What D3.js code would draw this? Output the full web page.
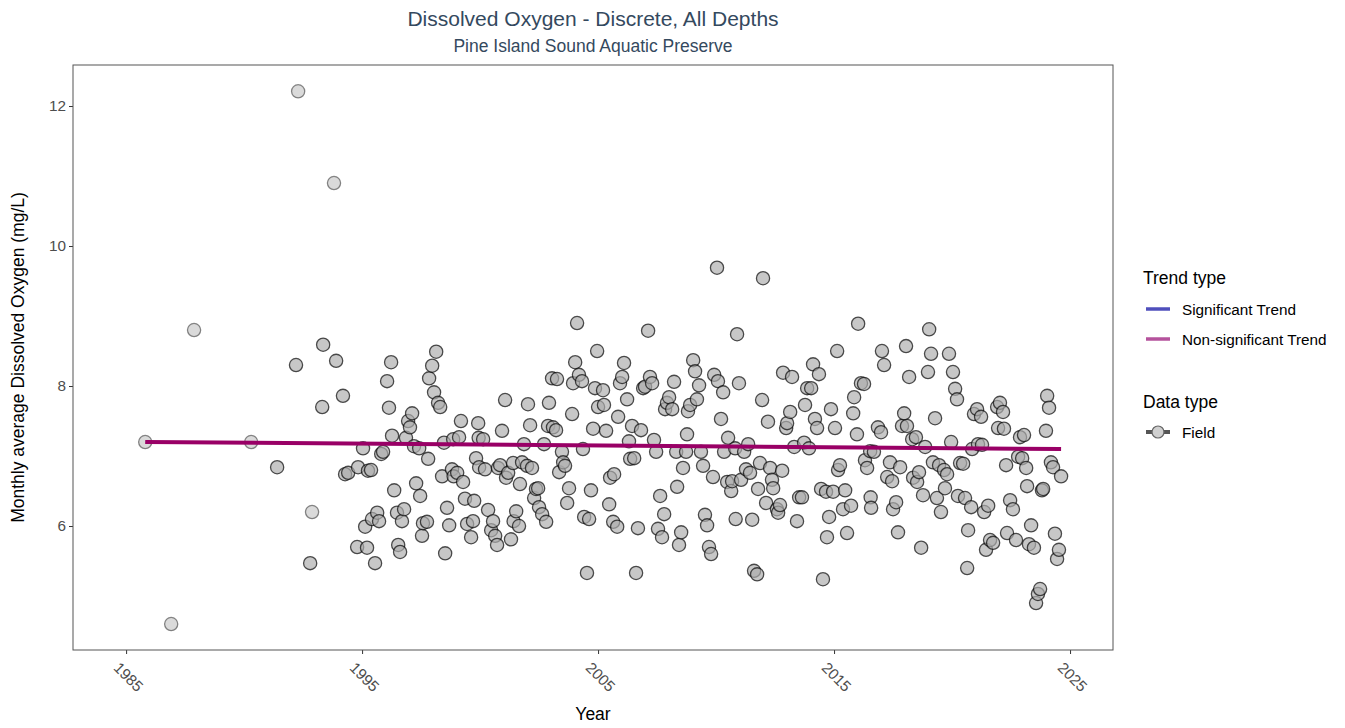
<!DOCTYPE html>
<html>
<head>
<meta charset="utf-8">
<script src="https://cdn.jsdelivr.net/npm/d3@7"></script>
<style>
  html, body { margin: 0; padding: 0; background: #fff; }
  svg { display: block; font-family: "Liberation Sans", Arial, sans-serif; }
</style>
</head>
<body>
<svg id="chart" width="1345" height="728"></svg>
<script>
// Monthly average dissolved oxygen (mg/L), decimal year vs value
const fieldObs = [
  [1991.40,6.84],[1992.20,8.30],[1992.80,5.47],[1993.31,7.70],[1993.35,8.59],[1993.90,8.36],[1994.19,7.86],
  [1994.28,6.74],[1994.41,6.76],[1994.79,5.70],[1994.83,6.84],[1995.04,7.11],[1995.13,5.99],[1995.21,5.69],
  [1995.25,6.79],[1995.38,6.80],[1995.42,6.10],[1995.55,5.47],[1995.64,6.19],[1995.72,6.07],[1995.81,7.03],
  [1995.89,7.06],[1996.06,8.07],[1996.14,7.69],[1996.23,8.34],[1996.27,7.29],[1996.36,6.51],[1996.48,6.19],
  [1996.53,5.73],[1996.61,5.63],[1996.69,6.07],[1996.78,6.24],[1996.86,7.26],[1996.95,7.50],[1997.03,7.41],
  [1997.12,7.61],[1997.20,7.14],[1997.29,6.61],[1997.42,7.11],[1997.46,6.43],[1997.54,5.86],[1997.58,6.04],
  [1997.75,6.06],[1997.80,6.96],[1997.84,8.11],[1997.97,8.29],[1998.05,7.91],[1998.14,8.49],[1998.22,7.76],
  [1998.31,7.70],[1998.39,6.71],[1998.47,7.19],[1998.52,5.61],[1998.60,6.26],[1998.69,6.01],[1998.81,6.81],
  [1998.86,7.24],[1998.88,6.71],[1999.03,6.76],[1999.11,7.27],[1999.19,7.50],[1999.28,6.63],[1999.36,6.39],
  [1999.45,6.03],[1999.62,5.84],[1999.70,6.07],[1999.75,6.36],[1999.83,6.97],[1999.92,7.47],[1999.94,7.26],
  [1999.96,6.84],
  [2000.13,7.24],[2000.21,6.81],[2000.34,6.23],[2000.47,5.94],[2000.55,6.07],[2000.64,5.86],[2000.72,5.73],
  [2000.76,6.83],[2000.85,6.87],[2000.93,7.36],[2001.06,7.80],[2001.10,6.69],[2001.19,6.76],[2001.31,5.81],
  [2001.40,6.90],[2001.42,6.07],[2001.53,6.21],[2001.65,6.00],[2001.69,6.60],[2001.78,6.91],[2001.86,7.17],
  [2001.99,6.86],[2002.03,7.74],[2002.12,7.44],[2002.20,6.83],[2002.29,6.40],[2002.37,6.53],[2002.46,6.54],
  [2002.50,6.27],[2002.63,6.17],[2002.71,7.17],[2002.80,6.06],[2002.88,7.43],[2002.92,7.76],[2003.05,8.11],
  [2003.09,7.41],[2003.22,7.37],[2003.26,8.10],[2003.35,6.77],[2003.47,7.06],[2003.52,6.91],[2003.60,6.86],
  [2003.69,6.33],[2003.77,6.54],[2003.90,7.60],[2003.94,8.04],[2004.03,8.34],[2004.11,8.90],[2004.19,8.16],
  [2004.32,8.07],[2004.36,7.10],[2004.41,6.13],[2004.53,5.33],[2004.62,6.10],[2004.70,6.51],[2004.79,7.39],
  [2004.87,7.97],[2004.96,8.50],[2005.00,7.70],[2005.21,7.94],[2005.25,7.73],[2005.34,7.36],
  [2005.47,6.31],[2005.51,6.69],[2005.64,6.06],[2005.68,6.74],[2005.81,5.99],[2005.85,7.56],[2005.93,8.04],
  [2006.02,8.13],[2006.10,8.33],[2006.23,7.81],[2006.31,7.21],[2006.36,6.96],[2006.44,7.43],[2006.53,6.97],
  [2006.61,5.33],[2006.69,5.97],[2006.82,7.37],[2006.91,7.97],[2006.99,7.99],[2007.12,8.79],[2007.20,8.13],
  [2007.29,8.04],[2007.37,7.23],[2007.46,7.06],[2007.54,5.96],[2007.63,6.43],[2007.71,5.84],[2007.80,6.17],
  [2007.84,7.67],[2007.92,7.76],[2008.01,7.84],[2008.14,7.67],[2008.22,8.06],[2008.31,7.06],[2008.35,6.56],
  [2008.43,5.73],[2008.52,5.91],[2008.60,6.83],[2008.73,7.06],[2008.77,7.31],[2008.81,7.64],[2008.90,7.73],
  [2009.03,8.37],[2009.11,8.21],[2009.19,7.81],[2009.28,8.01],[2009.36,7.06],[2009.45,6.86],[2009.53,6.16],
  [2009.62,6.01],[2009.70,5.70],[2009.79,5.60],[2009.87,6.70],[2009.92,8.16],[2010.04,9.69],[2010.08,8.07],
  [2010.21,7.53],[2010.30,7.91],[2010.34,7.06],[2010.47,6.63],[2010.51,7.26],[2010.64,6.50],[2010.68,6.64],
  [2010.81,7.11],[2010.83,6.10],[2010.89,8.74],[2010.97,8.04],[2011.06,6.66],
  [2011.19,7.06],[2011.27,6.81],[2011.36,7.17],[2011.44,6.76],[2011.53,6.09],[2011.61,5.36],[2011.74,5.31],
  [2011.78,6.53],[2011.86,6.90],[2011.95,7.80],[2011.99,9.54],[2012.12,6.33],[2012.20,7.49],[2012.29,6.83],
  [2012.37,6.66],[2012.42,6.54],[2012.58,6.24],[2012.63,6.19],[2012.71,6.30],[2012.80,6.79],[2012.84,8.19],
  [2012.97,7.40],[2013.01,7.47],[2013.14,7.63],[2013.22,8.13],[2013.31,7.13],[2013.43,6.07],[2013.52,6.41],
  [2013.64,6.41],[2013.73,7.19],[2013.77,7.73],[2013.86,7.97],[2013.94,7.11],[2014.03,7.97],[2014.11,8.31],
  [2014.19,7.53],[2014.28,7.40],[2014.36,8.17],[2014.45,6.53],[2014.53,5.24],[2014.66,6.49],[2014.70,5.84],
  [2014.79,6.13],[2014.87,7.67],[2014.96,6.49],[2015.04,7.40],[2015.13,8.50],[2015.17,6.80],[2015.25,6.87],
  [2015.38,6.24],[2015.47,6.51],[2015.55,5.90],[2015.72,6.29],[2015.81,7.61],[2015.85,7.84],[2015.97,7.31],
  [2016.02,8.89],[2016.14,8.04],[2016.27,8.03],[2016.31,6.94],[2016.40,6.83],[2016.53,7.07],[2016.55,6.41],
  [2016.57,6.26],
  [2016.69,7.06],[2016.86,7.41],[2016.99,7.34],[2017.03,8.50],[2017.12,8.30],[2017.25,6.70],[2017.37,6.91],
  [2017.46,6.64],[2017.50,6.24],[2017.63,6.34],[2017.71,5.91],[2017.80,6.84],[2017.88,7.43],[2017.97,7.61],
  [2018.05,8.57],[2018.09,7.43],[2018.18,8.13],[2018.31,7.24],[2018.35,6.69],[2018.47,7.27],[2018.52,6.63],
  [2018.60,6.77],[2018.69,5.69],[2018.77,6.44],[2018.86,7.13],[2018.98,8.20],[2019.03,8.81],[2019.11,8.46],
  [2019.19,6.91],[2019.28,7.54],[2019.36,6.40],[2019.45,6.87],[2019.53,6.20],[2019.66,6.80],[2019.70,6.54],
  [2019.79,6.74],[2019.87,8.46],[2019.96,7.20],[2020.04,8.20],[2020.13,7.96],[2020.21,7.81],[2020.25,6.43],
  [2020.34,6.90],[2020.47,6.89],[2020.55,6.40],[2020.64,5.40],[2020.68,5.94],[2020.81,6.27],[2020.85,7.10],
  [2020.93,7.60],[2021.06,7.67],[2021.10,7.17],[2021.23,7.56],[2021.27,7.16],[2021.36,6.20],[2021.44,5.66],
  [2021.53,6.29],[2021.61,5.80],[2021.74,5.76],[2021.91,7.70],[2021.95,7.40],
  [2022.03,7.76],[2022.16,7.63],[2022.20,7.39],[2022.29,6.87],[2022.33,5.90],[2022.46,6.37],[2022.58,6.24],
  [2022.71,5.80],[2022.80,6.99],[2022.88,7.27],[2022.97,6.97],[2023.05,7.30],[2023.14,6.83],[2023.18,6.57],
  [2023.26,5.74],[2023.35,6.01],[2023.47,5.69],[2023.56,4.90],[2023.64,5.03],[2023.73,5.10],[2023.81,6.51],
  [2023.86,6.53],[2023.98,7.36],[2024.03,7.86],[2024.11,7.69],[2024.19,6.91],[2024.28,6.84],[2024.36,5.89],
  [2024.45,5.53],[2024.53,5.66],[2024.62,6.71]
];
// Months represented by a single sample
const fieldObsSparse = [
  [1985.81,7.20],[1986.91,4.60],[1987.88,8.80],[1990.30,7.20],[1992.29,12.21],[1992.88,6.20],[1993.81,10.90]
];
// Fitted trend (non-significant)
const trendYears = [1985.81, 2024.62];
const trendValues = [7.20, 7.10];

const xTicks = [1985, 1995, 2005, 2015, 2025];
const yTicks = [6, 8, 10, 12];

const titleText = "Dissolved Oxygen - Discrete, All Depths";
const subtitleText = "Pine Island Sound Aquatic Preserve";
const xLabel = "Year";
const yLabel = "Monthly average Dissolved Oxygen (mg/L)";
const trendLegend = ["Significant Trend", "Non-significant Trend"];
const dataLegend = ["Field"];

const svg = d3.select("#chart");
const panel = { left: 73, top: 65, right: 1113, bottom: 650 };

const x = d3.scaleLinear().domain([1982.75, 2026.82]).range([panel.left, panel.right]);
const y = d3.scaleLinear().domain([4.229, 12.586]).range([panel.bottom, panel.top]);

const tickColor = "#4d4d4d";
const fontFamily = "Liberation Sans, Arial, sans-serif";

// Titles
svg.append("text").attr("x", (panel.left + panel.right) / 2).attr("y", 26)
  .attr("text-anchor", "middle").attr("font-size", 21).attr("fill", "#34495e").text(titleText);
svg.append("text").attr("x", (panel.left + panel.right) / 2).attr("y", 52)
  .attr("text-anchor", "middle").attr("font-size", 17.5).attr("fill", "#34495e").text(subtitleText);

// Axes
const xAxis = svg.append("g").attr("transform", `translate(0,${panel.bottom})`)
  .call(d3.axisBottom(x).tickValues(xTicks).tickFormat(d3.format("d")).tickSize(4).tickSizeOuter(0));
xAxis.select(".domain").remove();
xAxis.selectAll(".tick line").attr("stroke", "#333");
xAxis.selectAll(".tick text")
  .attr("font-size", 15.3).attr("fill", tickColor).attr("font-family", fontFamily)
  .attr("text-anchor", "middle").attr("dy", "0.35em").attr("y", 0)
  .attr("transform", "translate(2,27) rotate(45)");

const yAxis = svg.append("g").attr("transform", `translate(${panel.left},0)`)
  .call(d3.axisLeft(y).tickValues(yTicks).tickSize(4).tickSizeOuter(0));
yAxis.select(".domain").remove();
yAxis.selectAll(".tick line").attr("stroke", "#333");
yAxis.selectAll(".tick text")
  .attr("font-size", 15.3).attr("fill", tickColor).attr("font-family", fontFamily)
  .attr("x", -7);

svg.append("text").attr("x", (panel.left + panel.right) / 2).attr("y", 720)
  .attr("text-anchor", "middle").attr("font-size", 17.5).attr("fill", "#000").text(xLabel);
svg.append("text").attr("transform", `translate(24,${(panel.top + panel.bottom) / 2}) rotate(-90)`)
  .attr("text-anchor", "middle").attr("font-size", 17.5).attr("fill", "#000").text(yLabel);

// Points
const pts = svg.append("g");
function drawPoints(data, opacity) {
  pts.selectAll(null).data(data).enter().append("circle")
    .attr("cx", d => x(d[0])).attr("cy", d => y(d[1])).attr("r", 6.6)
    .attr("fill", "#adadad").attr("stroke", "#000").attr("stroke-width", 1.3)
    .attr("fill-opacity", opacity).attr("stroke-opacity", opacity);
}
drawPoints(fieldObsSparse, 0.45);
drawPoints(fieldObs, 0.68);

// Trend line
svg.append("path")
  .datum(trendYears.map((t, i) => [t, trendValues[i]]))
  .attr("d", d3.line().x(d => x(d[0])).y(d => y(d[1])))
  .attr("stroke", "#990066").attr("stroke-width", 4).attr("fill", "none");

// Panel border
svg.append("rect").attr("x", panel.left).attr("y", panel.top)
  .attr("width", panel.right - panel.left).attr("height", panel.bottom - panel.top)
  .attr("fill", "none").attr("stroke", "#555").attr("stroke-width", 1);

// Legend
const lg = svg.append("g").attr("font-size", 15.3).attr("fill", "#000");
lg.append("text").attr("x", 1143).attr("y", 284).attr("font-size", 17.5).text("Trend type");
const trendColors = ["#4f4fbc", "#b5529c"];
trendLegend.forEach((lab, i) => {
  const yy = 309 + i * 30;
  lg.append("line").attr("x1", 1146).attr("x2", 1170).attr("y1", yy).attr("y2", yy)
    .attr("stroke", trendColors[i]).attr("stroke-width", 3.5);
  lg.append("text").attr("x", 1182).attr("y", yy + 5.5).text(lab);
});
lg.append("text").attr("x", 1143).attr("y", 408).attr("font-size", 17.5).text("Data type");
dataLegend.forEach((lab, i) => {
  const yy = 432 + i * 30;
  lg.append("line").attr("x1", 1146).attr("x2", 1170).attr("y1", yy).attr("y2", yy)
    .attr("stroke", "#555").attr("stroke-width", 4);
  lg.append("circle").attr("cx", 1158).attr("cy", yy).attr("r", 6)
    .attr("fill", "#cfcfcf").attr("stroke", "#666").attr("stroke-width", 1.2);
  lg.append("text").attr("x", 1182).attr("y", yy + 5.5).text(lab);
});
</script>
</body>
</html>
